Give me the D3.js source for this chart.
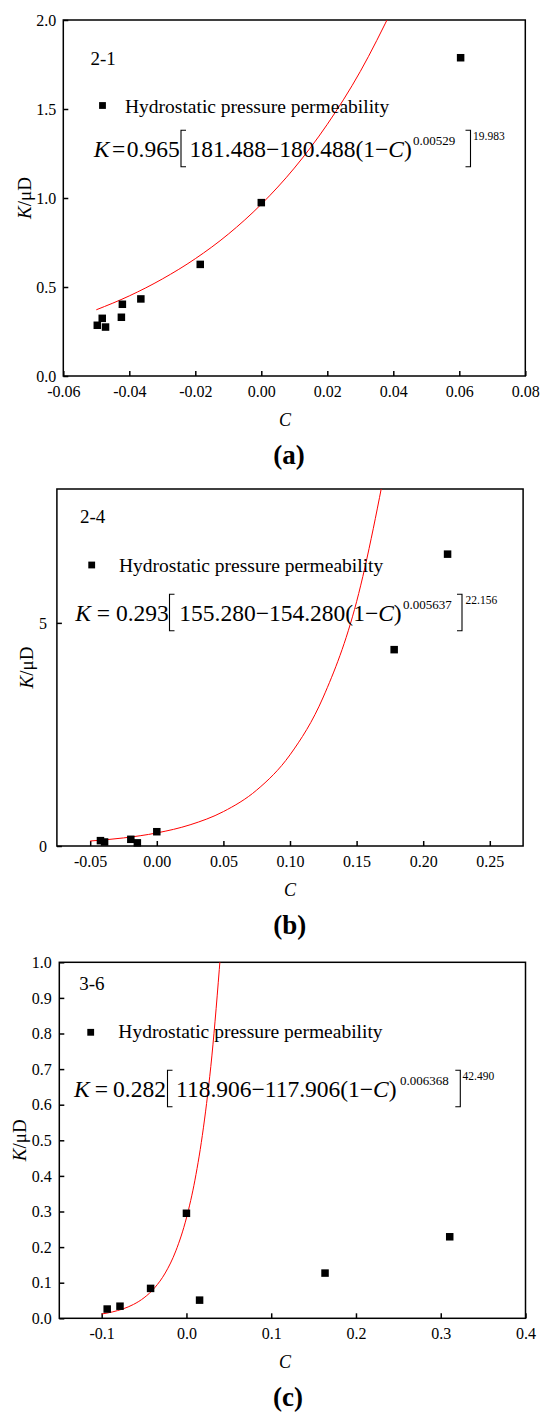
<!DOCTYPE html>
<html>
<head>
<meta charset="utf-8">
<script src="https://cdn.jsdelivr.net/npm/d3@7/dist/d3.min.js"></script>
<style>
body { margin: 0; background: #fff; }
svg { display: block; font-family: "Liberation Serif", "Times New Roman", serif; }
</style>
</head>
<body>
<div id="chart"></div>
<script>
// 数据：三个样品
const sampleIds = ["2-1", "2-4", "3-6"];
const captions = ["(a)", "(b)", "(c)"];
const legendText = "Hydrostatic pressure permeability";

// (a) 2-1
const cA = [-0.0497, -0.0482, -0.0472, -0.0424, -0.0421, -0.0365, -0.0185, 0.0, 0.0604];
const kA = [0.285, 0.324, 0.275, 0.330, 0.403, 0.433, 0.627, 0.974, 1.788];
const fitCA = [-0.05, -0.04, -0.03, -0.02, -0.01, 0.0, 0.01, 0.02, 0.03, 0.04];
const fitKA = [0.372, 0.450, 0.545, 0.659, 0.797, 0.965, 1.168, 1.414, 1.711, 2.072];
const xTicksA = [-0.06, -0.04, -0.02, 0.0, 0.02, 0.04, 0.06, 0.08];
const yTicksA = [0.0, 0.5, 1.0, 1.5, 2.0];
const eqA = ["0.965", "181.488", "180.488", "0.00529", "19.983"];

// (b) 2-4
const cB = [-0.0423, -0.0392, -0.0195, -0.0146, 0.0, 0.1782, 0.2183];
const kB = [0.12, 0.09, 0.15, 0.07, 0.32, 4.40, 6.54];
const fitCB = [-0.05, -0.025, 0.0, 0.025, 0.05, 0.075, 0.1, 0.125, 0.15, 0.175];
const fitKB = [0.112, 0.181, 0.293, 0.475, 0.771, 1.253, 2.043, 3.339, 5.475, 9.009];
const xTicksB = [-0.05, 0.0, 0.05, 0.10, 0.15, 0.20, 0.25];
const yTicksB = [0, 5];
const eqB = ["0.293", "155.280", "154.280", "0.005637", "22.156"];

// (c) 3-6
const cC = [-0.0935, -0.0784, -0.0423, 0.0, 0.0155, 0.1635, 0.3106];
const kC = [0.026, 0.034, 0.084, 0.295, 0.051, 0.127, 0.229];
const fitCC = [-0.1, -0.0875, -0.075, -0.0625, -0.05, -0.0375, -0.025, -0.0125, 0.0, 0.01, 0.02, 0.03, 0.04];
const fitKC = [0.0120, 0.0178, 0.0263, 0.0389, 0.0577, 0.0857, 0.1273, 0.1894, 0.282, 0.388, 0.535, 0.737, 1.017];
const xTicksC = [-0.1, 0.0, 0.1, 0.2, 0.3, 0.4];
const yTicksC = [0.0, 0.1, 0.2, 0.3, 0.4, 0.5, 0.6, 0.7, 0.8, 0.9, 1.0];
const eqC = ["0.282", "118.906", "117.906", "0.006368", "42.490"];

const width = 540;
const height = 1417;

// 负号用短横线
const loc = d3.formatLocale({ decimal: ".", thousands: ",", grouping: [3], currency: ["", ""], minus: "-" });

const panels = [
    { id: sampleIds[0], cap: captions[0], C: cA, K: kA, fitC: fitCA, fitK: fitKA,
      xTicks: xTicksA, yTicks: yTicksA, xFmt: ".2f", yFmt: ".1f", eq: eqA,
      box: { l: 63.3, r: 525.3, t: 20, b: 376 }, xDom: [-0.06, 0.08], yDom: [0, 2],
      idPos: [90.5, 65], leg: [102.5, 105.5, 125, 113],
      eqL: { x: 93.8, y: 156.7, ds: [2.5, 1.5], lb: 181, t2: 189.5, sup: 413, rb: 470.5, exp: 473 },
      yLabX: 31, yPad: 7, xLabX: 285, capX: 289 },
    { id: sampleIds[1], cap: captions[1], C: cB, K: kB, fitC: fitCB, fitK: fitKB,
      xTicks: xTicksB, yTicks: yTicksB, xFmt: ".2f", yFmt: "d", eq: eqB,
      box: { l: 56.9, r: 523.1, t: 489, b: 846 }, xDom: [-0.075, 0.275], yDom: [0, 8],
      idPos: [80, 523.3], leg: [91.7, 565, 119, 571.7],
      eqL: { x: 75.2, y: 620.7, ds: [5.9, 5.9], lb: 169.5, t2: 179.3, sup: 403, rb: 462, exp: 465.5 },
      yLabX: 33.3, yPad: 10, xLabX: 290, capX: 289.7 },
    { id: sampleIds[2], cap: captions[2], C: cC, K: kC, fitC: fitCC, fitK: fitKC,
      xTicks: xTicksC, yTicks: yTicksC, xFmt: ".1f", yFmt: ".1f", eq: eqC,
      box: { l: 59.3, r: 525.5, t: 962.3, b: 1318.3 }, xDom: [-0.15, 0.4], yDom: [0, 1],
      idPos: [79.3, 990], leg: [90.7, 1032.3, 118.3, 1038.3],
      eqL: { x: 74.1, y: 1096.7, ds: [5, 5], lb: 167.5, t2: 176, sup: 400, rb: 460.3, exp: 462.5 },
      yLabX: 26, yPad: 7.5, xLabX: 285, capX: 288 }
];

const svg = d3.select("#chart").append("svg")
    .attr("width", width)
    .attr("height", height);

// 方括号
function bracket(g, xv, top, bottom, dir) {
    const s = 5 * dir;
    g.append("path")
        .attr("d", `M${xv + s},${top}H${xv}V${bottom}H${xv + s}`)
        .attr("fill", "none")
        .attr("stroke", "#000")
        .attr("stroke-width", 1.1);
}

// 拟合公式
function drawEquation(g, L, parts) {
    const fs = 23.5;
    const y0 = L.y;
    const t1 = g.append("text").attr("x", L.x).attr("y", y0).attr("font-size", fs);
    t1.append("tspan").attr("font-style", "italic").text("K");
    t1.append("tspan").attr("dx", L.ds[0]).text("=");
    t1.append("tspan").attr("dx", L.ds[1]).text(parts[0]);

    const top = y0 - 26.5, bottom = y0 + 10;
    bracket(g, L.lb, top, bottom, 1);

    const t2 = g.append("text").attr("x", L.t2).attr("y", y0).attr("font-size", fs);
    t2.append("tspan").text(parts[1] + "\u2212" + parts[2] + "(1\u2212");
    t2.append("tspan").attr("font-style", "italic").text("C");
    t2.append("tspan").text(")");

    g.append("text").attr("x", L.sup).attr("y", y0 - 11.5).attr("font-size", 13).text(parts[3]);
    bracket(g, L.rb, top, bottom, -1);
    g.append("text").attr("x", L.exp).attr("y", y0 - 16.5).attr("font-size", 11.5).text(parts[4]);
}

function drawPanel(p, idx) {
    const x = d3.scaleLinear().domain(p.xDom).range([p.box.l, p.box.r]);
    const y = d3.scaleLinear().domain(p.yDom).range([p.box.b, p.box.t]);
    const g = svg.append("g");

    svg.append("clipPath").attr("id", "clip" + idx)
        .append("rect")
        .attr("x", p.box.l).attr("y", p.box.t)
        .attr("width", p.box.r - p.box.l).attr("height", p.box.b - p.box.t);

    // 坐标轴（刻度朝内）
    const xAxis = g.append("g")
        .attr("transform", `translate(0,${p.box.b})`)
        .call(d3.axisBottom(x).tickValues(p.xTicks).tickFormat(loc.format(p.xFmt))
            .tickSizeInner(-5).tickSizeOuter(0).tickPadding(9.5));
    const yAxis = g.append("g")
        .attr("transform", `translate(${p.box.l},0)`)
        .call(d3.axisLeft(y).tickValues(p.yTicks).tickFormat(loc.format(p.yFmt))
            .tickSizeInner(-5).tickSizeOuter(0).tickPadding(p.yPad));
    [xAxis, yAxis].forEach(a => {
        a.attr("font-family", null).attr("font-size", 16);
        a.select(".domain").remove();
        a.selectAll(".tick line").attr("stroke-width", 1.5);
        a.selectAll(".tick text").attr("fill", "#000");
    });

    // 边框
    g.append("rect")
        .attr("x", p.box.l).attr("y", p.box.t)
        .attr("width", p.box.r - p.box.l).attr("height", p.box.b - p.box.t)
        .attr("fill", "none").attr("stroke", "#000").attr("stroke-width", 1.5);

    // 拟合曲线
    const fit = p.fitC.map((c, i) => ({ c: c, k: p.fitK[i] }));
    const line = d3.line()
        .x(d => x(d.c))
        .y(d => y(d.k))
        .curve(d3.curveMonotoneX);
    g.append("path")
        .attr("clip-path", `url(#clip${idx})`)
        .attr("d", line(fit))
        .attr("fill", "none")
        .attr("stroke", "#ff0000")
        .attr("stroke-width", 1);

    // 数据点
    const pts = p.C.map((c, i) => ({ c: c, k: p.K[i] }));
    const s = 7.5;
    g.selectAll(".pt").data(pts).enter()
        .append("rect")
        .attr("class", "pt")
        .attr("x", d => x(d.c) - s / 2)
        .attr("y", d => y(d.k) - s / 2)
        .attr("width", s).attr("height", s)
        .attr("fill", "#000");

    // 样品编号
    g.append("text").attr("x", p.idPos[0]).attr("y", p.idPos[1])
        .attr("font-size", 19).text(p.id);

    // 图例
    g.append("rect")
        .attr("x", p.leg[0] - 3.4).attr("y", p.leg[1] - 3.4)
        .attr("width", 6.8).attr("height", 6.8).attr("fill", "#000");
    g.append("text").attr("x", p.leg[2]).attr("y", p.leg[3])
        .attr("font-size", 19.5).text(legendText);

    drawEquation(g, p.eqL, p.eq);

    // 轴标题
    const yl = g.append("text")
        .attr("transform", `translate(${p.yLabX},${(p.box.t + p.box.b) / 2}) rotate(-90)`)
        .attr("text-anchor", "middle")
        .attr("font-size", 19);
    yl.append("tspan").attr("font-style", "italic").text("K");
    yl.append("tspan").text("/\u03BCD");

    g.append("text")
        .attr("x", p.xLabX).attr("y", p.box.b + 49.5)
        .attr("text-anchor", "middle")
        .attr("font-size", 18).attr("font-style", "italic")
        .text("C");

    g.append("text")
        .attr("x", p.capX).attr("y", p.box.b + 87.5)
        .attr("text-anchor", "middle")
        .attr("font-size", 27).attr("font-weight", "bold")
        .text(p.cap);
}

panels.forEach((p, i) => drawPanel(p, i));
</script>
</body>
</html>
